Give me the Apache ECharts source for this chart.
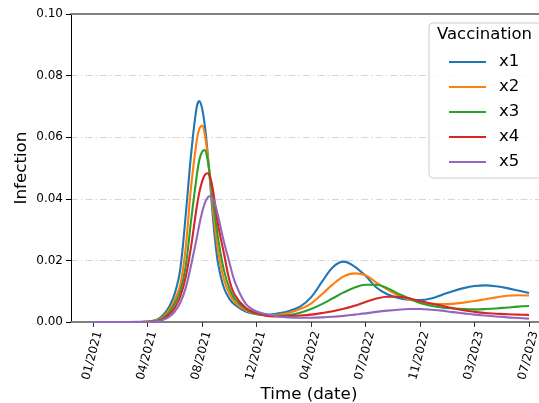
<!DOCTYPE html>
<html>
<head>
<meta charset="utf-8">
<script src="https://cdn.jsdelivr.net/npm/echarts@6/dist/echarts.min.js"></script>
<style>html,body{margin:0;padding:0;background:#fff}#c{width:539px;height:403px}</style>
</head>
<body>
<div id="c"></div>
<script>
// x positions in tick-index units (0 = 01/2021 ... 8 = 07/2023)
const xLabels = ['01/2021','04/2021','08/2021','12/2021','04/2022','07/2022','11/2022','03/2023','07/2023'];
const xs = [0, 0.5, 0.9, 1.1, 1.2, 1.3, 1.4, 1.5, 1.6, 1.7, 1.8, 1.9, 1.95, 2.0, 2.05, 2.1, 2.15, 2.2, 2.25, 2.3, 2.4, 2.5, 2.6, 2.8, 3.0, 3.2, 3.4, 3.6, 3.8, 4.0, 4.2, 4.4, 4.6, 4.8, 5.0, 5.2, 5.4, 5.6, 5.8, 6.0, 6.2, 6.4, 6.6, 6.8, 7.0, 7.2, 7.4, 7.6, 7.8, 8.0];
const seriesNames = ['x1','x2','x3','x4','x5'];
const x1 = [0, 0, 0.00005, 0.0004, 0.0010, 0.0025, 0.0050, 0.0092, 0.0170, 0.0345, 0.0545, 0.0695, 0.0717, 0.0695, 0.0640, 0.0555, 0.0450, 0.0340, 0.0250, 0.0185, 0.0112, 0.0076, 0.0056, 0.0034, 0.0025, 0.0023,
  0.0028, 0.0036, 0.0050, 0.0080, 0.0130, 0.0178, 0.0196, 0.0180, 0.0150, 0.0112, 0.0090, 0.0078, 0.0072, 0.0071, 0.0076, 0.0088, 0.0100, 0.0110, 0.0117, 0.0119, 0.0116, 0.0110, 0.0102, 0.0094];
const x2 = [0, 0, 0.00003, 0.0003, 0.0008, 0.0019, 0.0040, 0.0072, 0.0120, 0.0240, 0.0440, 0.0585, 0.0627, 0.0638, 0.0610, 0.0545, 0.0460, 0.0370, 0.0290, 0.0225, 0.0140, 0.0092, 0.0065, 0.0038, 0.0026, 0.0022,
  0.0023, 0.0030, 0.0042, 0.0060, 0.0090, 0.0122, 0.0148, 0.0158, 0.0152, 0.0128, 0.0106, 0.0086, 0.0073, 0.0065, 0.0060, 0.0058, 0.0059, 0.0063, 0.0068, 0.0074, 0.0080, 0.0085, 0.0087, 0.0086];
const x3 = [0, 0, 0.00002, 0.0002, 0.0006, 0.0015, 0.0032, 0.0060, 0.0100, 0.0180, 0.0330, 0.0470, 0.0525, 0.0552, 0.0558, 0.0530, 0.0470, 0.0400, 0.0330, 0.0265, 0.0170, 0.0110, 0.0075, 0.0042, 0.0027, 0.0021,
  0.0020, 0.0023, 0.0030, 0.0042, 0.0058, 0.0077, 0.0096, 0.0112, 0.0121, 0.0121, 0.0110, 0.0092, 0.0077, 0.0062, 0.0053, 0.0047, 0.0044, 0.0042, 0.0041, 0.0042, 0.0044, 0.0047, 0.0050, 0.0052];
const x4 = [0, 0, 0.00001, 0.0001, 0.0004, 0.0011, 0.0024, 0.0046, 0.0082, 0.0145, 0.0245, 0.0370, 0.0420, 0.0455, 0.0477, 0.0483, 0.0470, 0.0430, 0.0370, 0.0310, 0.0225, 0.0138, 0.0088, 0.0046, 0.0029, 0.0020,
  0.0018, 0.0019, 0.0021, 0.0024, 0.0029, 0.0035, 0.0043, 0.0053, 0.0065, 0.0076, 0.0082, 0.0082, 0.0077, 0.0068, 0.0060, 0.0053, 0.0045, 0.0038, 0.0033, 0.0029, 0.0027, 0.0025, 0.0024, 0.0023];
const x5 = [0, 0, 0.00001, 0.0001, 0.0003, 0.0008, 0.0017, 0.0034, 0.0062, 0.0110, 0.0185, 0.0270, 0.0315, 0.0355, 0.0385, 0.0403, 0.0409, 0.0400, 0.0375, 0.0340, 0.0262, 0.0195, 0.0132, 0.0060, 0.0034, 0.0025,
  0.0018, 0.0015, 0.0014, 0.0014, 0.0015, 0.0017, 0.0020, 0.0024, 0.0028, 0.0033, 0.0037, 0.0040, 0.0042, 0.0042, 0.0040, 0.0037, 0.0032, 0.0028, 0.0024, 0.0021, 0.0018, 0.0015, 0.0013, 0.0011];
const yTicks = [0, 0.02, 0.04, 0.06, 0.08, 0.10];
const colors = ['#1f77b4', '#ff7f0e', '#2ca02c', '#d62728', '#9467bd'];

const allY = [x1, x2, x3, x4, x5];
const tickPos = xLabels.map((_, i) => i);
const FONT = 'DejaVu Sans';

const chart = echarts.init(document.getElementById('c'), null, {renderer: 'canvas'});
chart.setOption({
  animation: false,
  backgroundColor: '#ffffff',
  textStyle: {fontFamily: FONT},
  grid: {left: 71, right: -8, top: 14, bottom: 81, containLabel: false, outerBoundsMode: 'none'},
  title: {
    text: 'Vaccination', left: 437, top: 26, z: 10,
    padding: 0,
    textStyle: {fontFamily: FONT, fontSize: 16.5, fontWeight: 'normal', color: '#000'}
  },
  legend: {
    orient: 'vertical', left: 429, top: 23, z: 5,
    data: seriesNames,
    icon: 'rect',
    itemWidth: 37, itemHeight: 2.2, itemGap: 7,
    padding: [30, 30, 7, 20],
    backgroundColor: 'rgba(255,255,255,0.85)',
    borderColor: '#cccccc', borderWidth: 1, borderRadius: 4,
    textStyle: {fontFamily: FONT, fontSize: 16.5, color: '#000', lineHeight: 18, padding: [0, 0, 0, 8]}
  },
  xAxis: [{
    type: 'value', min: -0.4037, max: 8.33, position: 'bottom',
    axisLine: {show: true, onZero: false, lineStyle: {color: '#808080', width: 2}},
    axisTick: {show: true, length: 5, customValues: tickPos, lineStyle: {color: '#333', width: 1}},
    axisLabel: {
      show: true, customValues: tickPos, rotate: 75, margin: 8, verticalAlign: 'top',
      fontFamily: FONT, fontSize: 12, color: '#000',
      formatter: v => xLabels[Math.round(v)] || ''
    },
    splitLine: {show: false},
    name: 'Time (date)', nameLocation: 'middle', nameGap: 64, nameMoveOverlap: false,
    nameTextStyle: {fontFamily: FONT, fontSize: 16.7, color: '#000'}
  }, {
    type: 'value', min: -0.4037, max: 8.33, position: 'top',
    axisLine: {show: true, onZero: false, lineStyle: {color: '#808080', width: 2}},
    axisTick: {show: false}, axisLabel: {show: false}, splitLine: {show: false}
  }],
  yAxis: {
    type: 'value', min: 0, max: 0.10, interval: 0.02,
    axisLine: {show: true, onZero: false, lineStyle: {color: '#000', width: 1}},
    axisTick: {show: true, length: 5, lineStyle: {color: '#000', width: 1}},
    axisLabel: {margin: 8, fontFamily: FONT, fontSize: 12, color: '#000', formatter: v => v.toFixed(2)},
    splitLine: {show: true, lineStyle: {color: '#d6d6d6', width: 1, type: [7, 3, 1.5, 3]}},
    name: 'Infection', nameLocation: 'middle', nameGap: 41, nameMoveOverlap: false,
    nameTextStyle: {fontFamily: FONT, fontSize: 16.7, color: '#000'}
  },
  series: seriesNames.map((n, k) => ({
    name: n, type: 'line', xAxisIndex: 0,
    data: xs.map((x, i) => [x, allY[k][i]]),
    smooth: 0.35, showSymbol: false, symbol: 'none',
    lineStyle: {color: colors[k], width: 2.1},
    itemStyle: {color: colors[k]},
    clip: true
  }))
});
</script>
</body>
</html>
